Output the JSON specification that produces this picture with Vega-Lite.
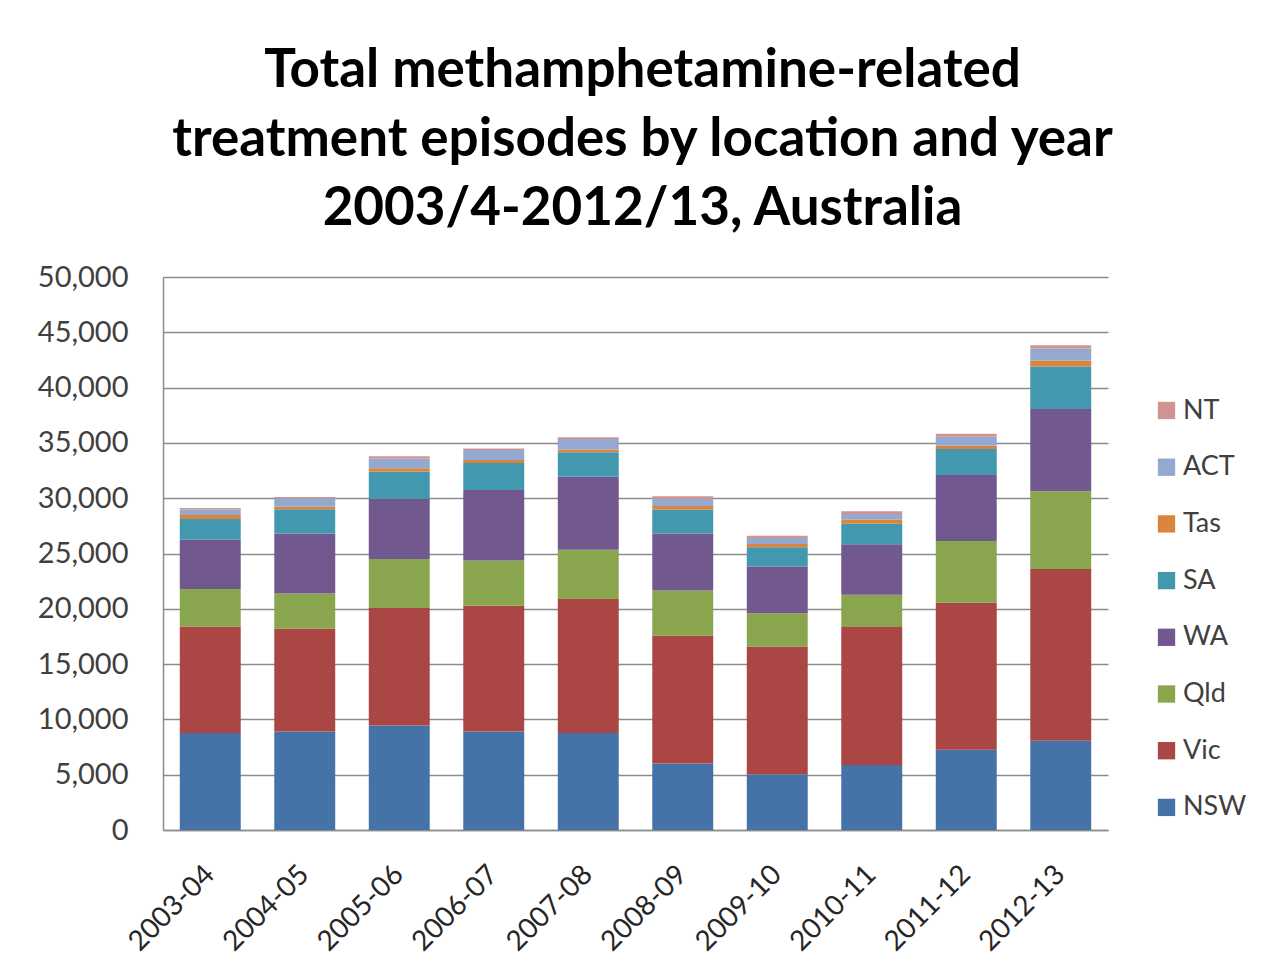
{
  "$schema": "https://vega.github.io/schema/vega-lite/v6.json",
  "autosize": "none",
  "width": 945,
  "height": 553,
  "padding": {"left": 163, "top": 277, "right": 153, "bottom": 137},
  "background": "white",
  "title": {
    "text": ["Total methamphetamine-related", "treatment episodes by location and year", "2003/4-2012/13, Australia"],
    "fontSize": 53,
    "font": "Lato",
    "fontWeight": "bold",
    "color": "#000000",
    "lineHeight": 69,
    "anchor": "middle",
    "dx": 7,
    "offset": 27
  },
  "datasets": {
    "stateOrder": [
      {"state": "NSW", "stackRank": 1},
      {"state": "Vic", "stackRank": 2},
      {"state": "Qld", "stackRank": 3},
      {"state": "WA", "stackRank": 4},
      {"state": "SA", "stackRank": 5},
      {"state": "Tas", "stackRank": 6},
      {"state": "ACT", "stackRank": 7},
      {"state": "NT", "stackRank": 8}
    ]
  },
  "data": {
    "values": [
      {"year": "2003-04", "state": "NSW", "episodes": 8780},
      {"year": "2003-04", "state": "Vic", "episodes": 9630},
      {"year": "2003-04", "state": "Qld", "episodes": 3390},
      {"year": "2003-04", "state": "WA", "episodes": 4460},
      {"year": "2003-04", "state": "SA", "episodes": 1870},
      {"year": "2003-04", "state": "Tas", "episodes": 360},
      {"year": "2003-04", "state": "ACT", "episodes": 480},
      {"year": "2003-04", "state": "NT", "episodes": 150},
      {"year": "2004-05", "state": "NSW", "episodes": 8900},
      {"year": "2004-05", "state": "Vic", "episodes": 9330},
      {"year": "2004-05", "state": "Qld", "episodes": 3160},
      {"year": "2004-05", "state": "WA", "episodes": 5410},
      {"year": "2004-05", "state": "SA", "episodes": 2200},
      {"year": "2004-05", "state": "Tas", "episodes": 250},
      {"year": "2004-05", "state": "ACT", "episodes": 750},
      {"year": "2004-05", "state": "NT", "episodes": 100},
      {"year": "2005-06", "state": "NSW", "episodes": 9450},
      {"year": "2005-06", "state": "Vic", "episodes": 10620},
      {"year": "2005-06", "state": "Qld", "episodes": 4430},
      {"year": "2005-06", "state": "WA", "episodes": 5460},
      {"year": "2005-06", "state": "SA", "episodes": 2440},
      {"year": "2005-06", "state": "Tas", "episodes": 300},
      {"year": "2005-06", "state": "ACT", "episodes": 900},
      {"year": "2005-06", "state": "NT", "episodes": 200},
      {"year": "2006-07", "state": "NSW", "episodes": 8900},
      {"year": "2006-07", "state": "Vic", "episodes": 11380},
      {"year": "2006-07", "state": "Qld", "episodes": 4090},
      {"year": "2006-07", "state": "WA", "episodes": 6380},
      {"year": "2006-07", "state": "SA", "episodes": 2430},
      {"year": "2006-07", "state": "Tas", "episodes": 270},
      {"year": "2006-07", "state": "ACT", "episodes": 910},
      {"year": "2006-07", "state": "NT", "episodes": 140},
      {"year": "2007-08", "state": "NSW", "episodes": 8780},
      {"year": "2007-08", "state": "Vic", "episodes": 12100},
      {"year": "2007-08", "state": "Qld", "episodes": 4450},
      {"year": "2007-08", "state": "WA", "episodes": 6620},
      {"year": "2007-08", "state": "SA", "episodes": 2200},
      {"year": "2007-08", "state": "Tas", "episodes": 250},
      {"year": "2007-08", "state": "ACT", "episodes": 950},
      {"year": "2007-08", "state": "NT", "episodes": 150},
      {"year": "2008-09", "state": "NSW", "episodes": 6020},
      {"year": "2008-09", "state": "Vic", "episodes": 11550},
      {"year": "2008-09", "state": "Qld", "episodes": 4090},
      {"year": "2008-09", "state": "WA", "episodes": 5140},
      {"year": "2008-09", "state": "SA", "episodes": 2170},
      {"year": "2008-09", "state": "Tas", "episodes": 330},
      {"year": "2008-09", "state": "ACT", "episodes": 630},
      {"year": "2008-09", "state": "NT", "episodes": 240},
      {"year": "2009-10", "state": "NSW", "episodes": 5050},
      {"year": "2009-10", "state": "Vic", "episodes": 11550},
      {"year": "2009-10", "state": "Qld", "episodes": 3000},
      {"year": "2009-10", "state": "WA", "episodes": 4230},
      {"year": "2009-10", "state": "SA", "episodes": 1740},
      {"year": "2009-10", "state": "Tas", "episodes": 300},
      {"year": "2009-10", "state": "ACT", "episodes": 530},
      {"year": "2009-10", "state": "NT", "episodes": 200},
      {"year": "2010-11", "state": "NSW", "episodes": 5870},
      {"year": "2010-11", "state": "Vic", "episodes": 12480},
      {"year": "2010-11", "state": "Qld", "episodes": 2920},
      {"year": "2010-11", "state": "WA", "episodes": 4570},
      {"year": "2010-11", "state": "SA", "episodes": 1840},
      {"year": "2010-11", "state": "Tas", "episodes": 390},
      {"year": "2010-11", "state": "ACT", "episodes": 510},
      {"year": "2010-11", "state": "NT", "episodes": 240},
      {"year": "2011-12", "state": "NSW", "episodes": 7250},
      {"year": "2011-12", "state": "Vic", "episodes": 13300},
      {"year": "2011-12", "state": "Qld", "episodes": 5590},
      {"year": "2011-12", "state": "WA", "episodes": 5960},
      {"year": "2011-12", "state": "SA", "episodes": 2350},
      {"year": "2011-12", "state": "Tas", "episodes": 300},
      {"year": "2011-12", "state": "ACT", "episodes": 810},
      {"year": "2011-12", "state": "NT", "episodes": 270},
      {"year": "2012-13", "state": "NSW", "episodes": 8060},
      {"year": "2012-13", "state": "Vic", "episodes": 15530},
      {"year": "2012-13", "state": "Qld", "episodes": 7040},
      {"year": "2012-13", "state": "WA", "episodes": 7430},
      {"year": "2012-13", "state": "SA", "episodes": 3840},
      {"year": "2012-13", "state": "Tas", "episodes": 550},
      {"year": "2012-13", "state": "ACT", "episodes": 1080},
      {"year": "2012-13", "state": "NT", "episodes": 300}
    ]
  },
  "transform": [
    {"lookup": "state", "from": {"data": {"name": "stateOrder"}, "key": "state", "fields": ["stackRank"]}}
  ],
  "mark": {"type": "bar"},
  "encoding": {
    "x": {
      "field": "year",
      "type": "nominal",
      "title": null,
      "scale": {"paddingInner": 0.355, "paddingOuter": 0.1775},
      "axis": {
        "labelAngle": -45,
        "labelAlign": "right",
        "labelBaseline": "middle",
        "labelFont": "Lato",
        "labelFontSize": 28,
        "labelColor": "#262626",
        "labelPadding": 40,
        "labelOffset": 0,
        "ticks": false,
        "domainColor": "#8c8c8c",
        "domainWidth": 1.5,
        "grid": false
      }
    },
    "y": {
      "field": "episodes",
      "type": "quantitative",
      "stack": "zero",
      "title": null,
      "scale": {"domain": [0, 50000], "nice": false},
      "axis": {
        "values": [0, 5000, 10000, 15000, 20000, 25000, 30000, 35000, 40000, 45000, 50000],
        "format": ",d",
        "labelFont": "Lato",
        "labelFontSize": 29,
        "labelColor": "#404040",
        "labelPadding": 35,
        "ticks": false,
        "domainColor": "#8c8c8c",
        "domainWidth": 1.5,
        "gridColor": "#8c8c8c",
        "gridWidth": 1.3
      }
    },
    "order": {"field": "stackRank", "type": "quantitative", "sort": "ascending"},
    "color": {
      "field": "state",
      "type": "nominal",
      "scale": {
        "domain": ["NSW", "Vic", "Qld", "WA", "SA", "Tas", "ACT", "NT"],
        "range": ["#4572A7", "#AA4643", "#89A54E", "#71588F", "#4198AF", "#DB843D", "#93A9CF", "#D19392"]
      },
      "legend": {
        "title": null,
        "orient": "none",
        "legendX": 990,
        "legendY": 120,
        "values": ["NT", "ACT", "Tas", "SA", "WA", "Qld", "Vic", "NSW"],
        "symbolType": "square",
        "symbolSize": 300,
        "symbolStrokeWidth": 0,
        "labelFont": "Lato",
        "labelFontSize": 27,
        "labelColor": "#404040",
        "labelOffset": 3,
        "rowPadding": 28.7
      }
    }
  },
  "config": {
    "view": {"stroke": null}
  }
}
